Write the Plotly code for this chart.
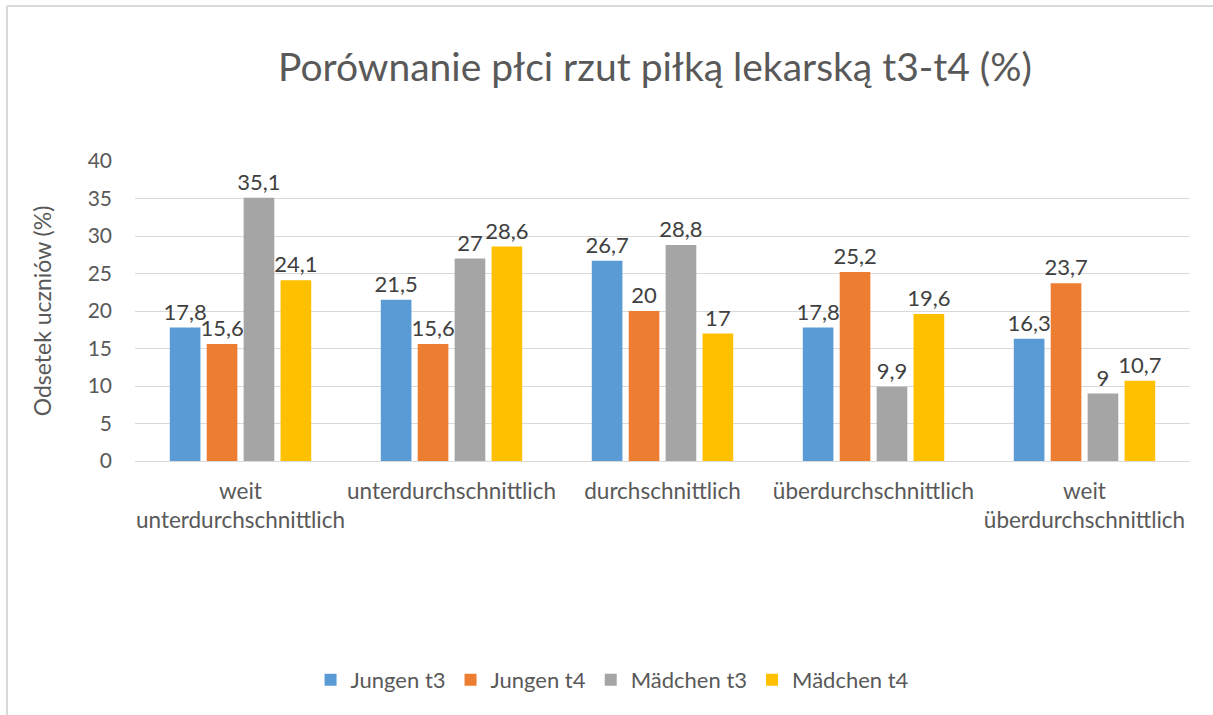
import plotly.graph_objects as go

categories = ["weit<br>unterdurchschnittlich", "unterdurchschnittlich", "durchschnittlich",
              "überdurchschnittlich", "weit<br>überdurchschnittlich"]
jungen_t3 = [17.8, 21.5, 26.7, 17.8, 16.3]
jungen_t4 = [15.6, 15.6, 20, 25.2, 23.7]
maedchen_t3 = [35.1, 27, 28.8, 9.9, 9]
maedchen_t4 = [24.1, 28.6, 17, 19.6, 10.7]
series_names = ["Jungen t3", "Jungen t4", "Mädchen t3", "Mädchen t4"]
colors = ["#5B9BD5", "#ED7D31", "#A5A5A5", "#FFC000"]
y_ticks = [0, 5, 10, 15, 20, 25, 30, 35, 40]

FONT = "Lato"
TXT = "#595959"

L, R, T, B = 135, 23, 161, 254
PW = 1213 - L - R
PH = 715 - T - B

fig = go.Figure()
for name, vals, col in zip(series_names, [jungen_t3, jungen_t4, maedchen_t3, maedchen_t4], colors):
    fig.add_trace(go.Bar(
        x=categories, y=vals, name=name, marker_color=col, marker_line_width=0,
        text=[f"{v:g}".replace(".", ",") for v in vals], textposition="outside",
        constraintext="none",
        textfont=dict(size=22, color="#404040", family=FONT), cliponaxis=False,
    ))

fig.update_layout(
    width=1213, height=715,
    paper_bgcolor="white", plot_bgcolor="white",
    margin=dict(l=L, r=R, t=T, b=B, autoexpand=False),
    barmode="group", bargap=0.3, bargroupgap=0.17,
    font=dict(family=FONT, color=TXT, size=22),
    title=dict(text="Porównanie płci rzut piłką lekarską t3-t4 (%)", x=0.54, xanchor="center",
               y=1 - 67 / 715, yanchor="middle", font=dict(size=39, color=TXT, family=FONT)),
    legend=dict(orientation="h", x=0.505, xanchor="center", xref="container",
                y=(715 - 680) / 715, yanchor="middle", yref="container",
                font=dict(size=22, color=TXT, family=FONT), traceorder="normal", itemwidth=30),
    yaxis=dict(range=[0, 40], tickvals=y_ticks, showgrid=True, gridcolor="#D9D9D9", gridwidth=1,
               zeroline=True, zerolinecolor="#D9D9D9", zerolinewidth=1, automargin=False,
               tickfont=dict(size=21, color=TXT), ticks="", ticklabelstandoff=22,
               title=dict(text="Odsetek uczniów (%)", font=dict(size=23, color=TXT), standoff=29)),
    xaxis=dict(tickfont=dict(size=22.5, color=TXT), showline=False, ticks="", ticklabelstandoff=14,
               tickangle=0, automargin=False),
    shapes=[
        dict(type="line", xref="paper", yref="paper", x0=(7 - L) / PW, x1=(7 - L) / PW,
             y0=1 + (T - 6) / PH, y1=-(B + 5) / PH, line=dict(color="#D9D9D9", width=2)),
        dict(type="line", xref="paper", yref="paper", x0=(7 - L) / PW, x1=(1230 - L) / PW,
             y0=1 + (T - 6) / PH, y1=1 + (T - 6) / PH, line=dict(color="#D9D9D9", width=2)),
    ],
)

fig.write_html("out.html", config={"displayModeBar": False},
               post_script="document.body.style.margin='0';")
